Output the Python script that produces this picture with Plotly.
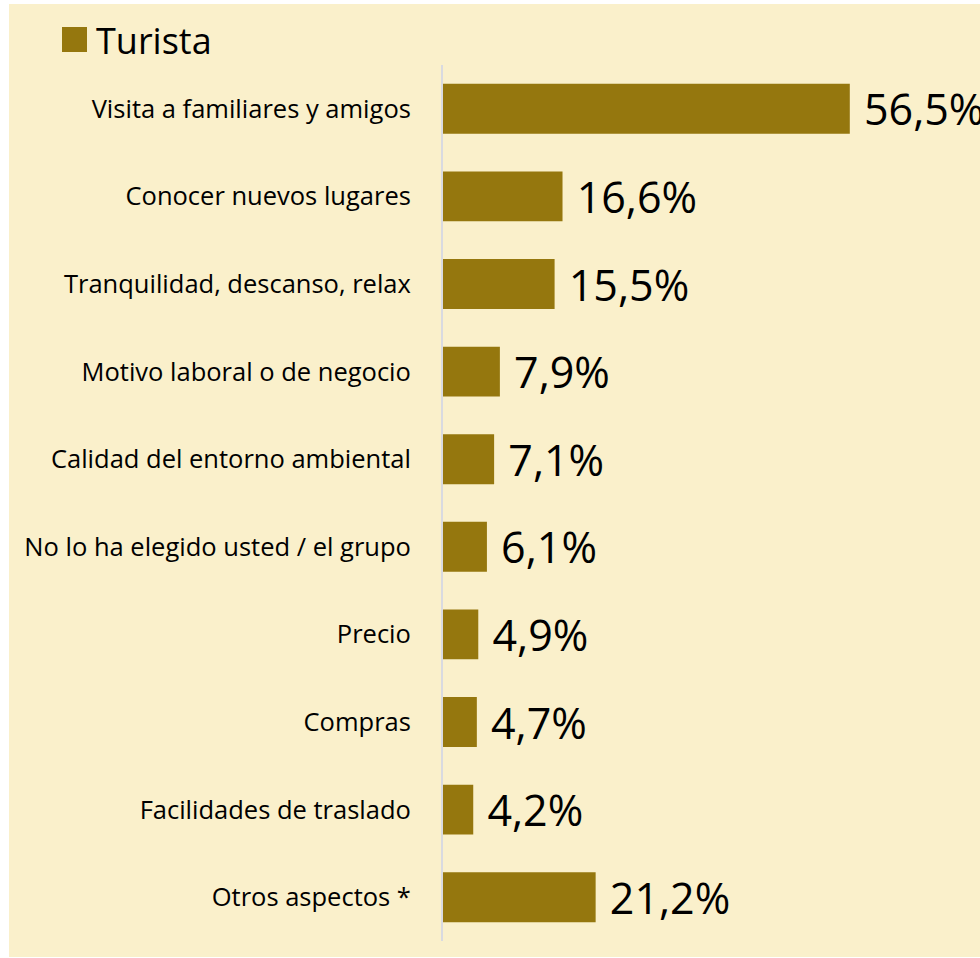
import plotly.graph_objects as go

categories = [
    "Visita a familiares y amigos",
    "Conocer nuevos lugares",
    "Tranquilidad, descanso, relax",
    "Motivo laboral o de negocio",
    "Calidad del entorno ambiental",
    "No lo ha elegido usted / el grupo",
    "Precio",
    "Compras",
    "Facilidades de traslado",
    "Otros aspectos *",
]
values = [56.5, 16.6, 15.5, 7.9, 7.1, 6.1, 4.9, 4.7, 4.2, 21.2]
series_name = "Turista"

W, H = 980, 958
ML, MR, MT = 443, 0, 65
MB = H - 941
PW, PH = W - ML - MR, H - MT - MB

BG = "#FAF0CB"
BAR = "#95770E"
FONT = "Open Sans"


def px_x(p):
    """page pixel x -> paper coordinate"""
    return (p - ML) / PW


def px_y(p):
    """page pixel y -> paper coordinate"""
    return (H - MB - p) / PH


fig = go.Figure()
fig.add_trace(go.Bar(
    y=categories,
    x=values,
    orientation="h",
    name=series_name,
    marker=dict(color=BAR, line=dict(width=0)),
    texttemplate=" %{x:.1f}%",
    textposition="outside",
    textfont=dict(size=43, color="#000000", family=FONT),
    constraintext="none",
    cliponaxis=False,
    showlegend=False,
))

fig.update_layout(
    width=W,
    height=H,
    margin=dict(l=ML, r=MR, t=MT, b=MB, pad=0),
    paper_bgcolor="#FFFFFF",
    plot_bgcolor="rgba(0,0,0,0)",
    separators=",.",
    bargap=0.43,
    font=dict(family=FONT, color="#000000"),
    xaxis=dict(range=[0, PW / 7.2], visible=False, fixedrange=True),
    yaxis=dict(
        autorange="reversed",
        showline=True,
        linecolor="#D9DAE0",
        linewidth=2,
        showgrid=False,
        zeroline=False,
        ticks="outside",
        ticklen=25,
        tickcolor="rgba(0,0,0,0)",
        tickfont=dict(size=25.5, family=FONT, color="#000000"),
        fixedrange=True,
    ),
    shapes=[
        dict(type="rect", xref="paper", yref="paper",
             x0=px_x(9), x1=px_x(980), y0=px_y(957), y1=px_y(4),
             fillcolor=BG, line=dict(width=0), layer="below"),
        dict(type="rect", xref="paper", yref="paper",
             x0=px_x(62), x1=px_x(87), y0=px_y(52), y1=px_y(27),
             fillcolor=BAR, line=dict(width=0)),
    ],
    annotations=[
        dict(text=series_name, xref="paper", yref="paper",
             x=px_x(94), y=px_y(40), xanchor="left", yanchor="middle",
             showarrow=False, font=dict(size=36, family=FONT, color="#000000")),
    ],
)

fig.write_html(
    "out.html",
    config={"displayModeBar": False},
    post_script="document.body.style.margin='0';document.body.style.overflow='hidden';",
)
